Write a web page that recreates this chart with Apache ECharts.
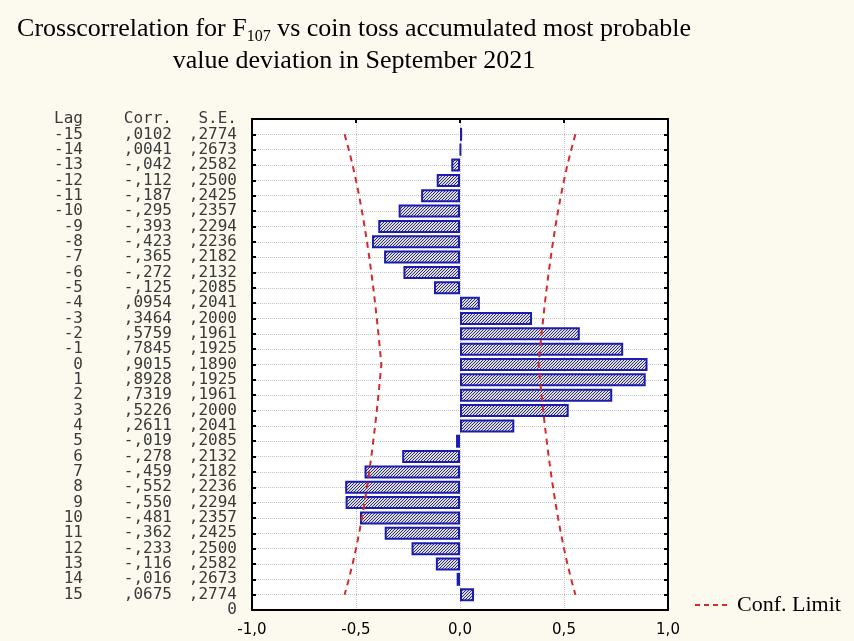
<!DOCTYPE html>
<html>
<head>
<meta charset="utf-8">
<script src="https://cdn.jsdelivr.net/npm/echarts@6/dist/echarts.min.js"></script>
<style>
  html, body { margin: 0; padding: 0; background: #fcf9ef; }
  #chart { width: 854px; height: 641px; }
</style>
</head>
<body>
<div id="chart"></div>
<script>
// Lags, cross-correlation coefficients and their standard errors
const lags = [-15, -14, -13, -12, -11, -10, -9, -8, -7, -6, -5, -4, -3, -2, -1,
  0, 1, 2, 3, 4, 5, 6, 7, 8, 9, 10, 11, 12, 13, 14, 15];
const corr = [0.0102, 0.0041, -0.042, -0.112, -0.187, -0.295, -0.393, -0.423, -0.365, -0.272,
  -0.125, 0.0954, 0.3464, 0.5759, 0.7845, 0.9015, 0.8928, 0.7319, 0.5226, 0.2611,
  -0.019, -0.278, -0.459, -0.552, -0.550, -0.481, -0.362, -0.233, -0.116, -0.016, 0.0675];
const stdErr = [0.2774, 0.2673, 0.2582, 0.2500, 0.2425, 0.2357, 0.2294, 0.2236, 0.2182, 0.2132,
  0.2085, 0.2041, 0.2000, 0.1961, 0.1925, 0.1890, 0.1925, 0.1961, 0.2000, 0.2041,
  0.2085, 0.2132, 0.2182, 0.2236, 0.2294, 0.2357, 0.2425, 0.2500, 0.2582, 0.2673, 0.2774];
const xTicks = [-1, -0.5, 0, 0.5, 1];
const headers = { lag: 'Lag', corr: 'Corr.', se: 'S.E.' };
const confMultiplier = 2;

// Row 0 holds the column headers, the last row is the empty baseline row
const rows = ['head'].concat(lags.map(String), ['base']);

function fmtCorr(v) {
  return v >= 0 ? ',' + v.toFixed(4).slice(2) : '-,' + (-v).toFixed(3).slice(2);
}
function fmtSE(v) { return ',' + v.toFixed(4).slice(2); }

const lagLabels = [headers.lag].concat(lags.map(String), ['']);
const corrLabels = [headers.corr].concat(corr.map(fmtCorr), ['']);
const seLabels = [headers.se].concat(stdErr.map(fmtSE), ['0']);

const pad = arr => ['-'].concat(arr, ['-']);
const barData = pad(corr);
const upperLimit = pad(stdErr.map(s => +(confMultiplier * s).toFixed(4)));
const lowerLimit = pad(stdErr.map(s => -(confMultiplier * s).toFixed(4)));

// Diagonal hatch used to fill the bars
function hatch() {
  const n = 3;
  const c = document.createElement('canvas');
  c.width = n; c.height = n;
  const g = c.getContext('2d');
  g.fillStyle = '#dcdbe8';
  g.fillRect(0, 0, n, n);
  g.strokeStyle = '#30305e';
  g.lineWidth = 1;
  g.beginPath();
  g.moveTo(-1, n + 1); g.lineTo(n + 1, -1);
  g.moveTo(-1, 1); g.lineTo(1, -1);
  g.moveTo(n - 1, n + 1); g.lineTo(n + 1, n - 1);
  g.stroke();
  return c;
}

const monoLabel = (list, margin) => ({
  show: true,
  interval: 0,
  margin: margin,
  fontFamily: 'DejaVu Sans Mono',
  fontSize: 16,
  color: '#3a3a3a',
  formatter: (v, i) => list[i]
});

const chart = echarts.init(document.getElementById('chart'));
chart.setOption({
  backgroundColor: '#fcf9ef',
  animation: false,
  title: {
    text: 'Crosscorrelation for F{sub|107} vs coin toss accumulated most probable\nvalue deviation in September 2021',
    left: 349,
    top: 8,
    textAlign: 'center',
    textStyle: {
      fontFamily: 'Liberation Serif',
      fontSize: 26,
      fontWeight: 'normal',
      color: '#000',
      lineHeight: 32,
      align: 'center',
      rich: {
        sub: { fontFamily: 'Liberation Serif', fontSize: 16, verticalAlign: 'bottom', lineHeight: 32, padding: [10, 0, 0, 0], color: '#000' }
      }
    }
  },
  legend: {
    data: [{
      name: 'Conf. Limit',
      icon: 'path://M0,0h5v2h-5z M9,0h5v2h-5z M18,0h5v2h-5z M27,0h5v2h-5z'
    }],
    left: 690,
    top: 589,
    itemWidth: 32,
    itemHeight: 2,
    itemGap: 10,
    itemStyle: { color: '#d42a2a' },
    textStyle: { fontFamily: 'Liberation Serif', fontSize: 22, color: '#000', padding: [0, 0, 0, 5] }
  },
  grid: {
    left: 252, right: 186, top: 119, bottom: 31,
    show: true, backgroundColor: '#ffffff', borderWidth: 0
  },
  xAxis: [{
    type: 'value', min: -1, max: 1, interval: 0.5, position: 'bottom',
    axisLine: { show: true, onZero: false, lineStyle: { color: '#000', width: 2 } },
    axisTick: { show: false },
    axisLabel: {
      margin: 13, fontFamily: 'DejaVu Sans', fontSize: 15, color: '#000',
      formatter: v => (xTicks.includes(v) ? v.toFixed(1).replace('.', ',') : '')
    },
    splitLine: { show: true, lineStyle: { color: '#c4c4c4', type: 'dotted', width: 1 } }
  }, {
    type: 'value', min: -1, max: 1, interval: 0.5, position: 'top',
    axisLine: { show: true, onZero: false, lineStyle: { color: '#000', width: 2 } },
    axisTick: { show: true, inside: true, length: 4, lineStyle: { color: '#000', width: 2 } },
    axisLabel: { show: false },
    splitLine: { show: false }
  }],
  yAxis: [{
    type: 'category', data: rows, inverse: true, boundaryGap: false, position: 'left',
    axisLine: { show: true, onZero: false, lineStyle: { color: '#000', width: 2 } },
    axisTick: { show: true, inside: true, interval: 0, length: 4, lineStyle: { color: '#000', width: 2 } },
    axisLabel: monoLabel(lagLabels, 169),
    splitLine: { show: true, interval: 0, lineStyle: { color: '#c4c4c4', type: 'dotted', width: 1 } }
  }, {
    type: 'category', data: rows, inverse: true, boundaryGap: false, position: 'left', offset: 0,
    axisLine: { show: false }, axisTick: { show: false },
    axisLabel: monoLabel(corrLabels, 80),
    splitLine: { show: false }
  }, {
    type: 'category', data: rows, inverse: true, boundaryGap: false, position: 'left', offset: 0,
    axisLine: { show: false }, axisTick: { show: false },
    axisLabel: monoLabel(seLabels, 15),
    splitLine: { show: false }
  }, {
    type: 'category', data: rows, inverse: true, boundaryGap: false, position: 'right',
    axisLine: { show: true, onZero: false, lineStyle: { color: '#000', width: 2 } },
    axisTick: { show: true, inside: true, interval: 0, length: 4, lineStyle: { color: '#000', width: 2 } },
    axisLabel: { show: false },
    splitLine: { show: false }
  }],
  series: [{
    type: 'bar',
    name: 'Corr.',
    xAxisIndex: 0,
    yAxisIndex: 0,
    data: barData,
    barWidth: 13,
    itemStyle: {
      color: { image: hatch(), repeat: 'repeat' },
      borderColor: '#1c1cb0',
      borderWidth: 2
    },
    z: 3
  }, {
    type: 'line',
    name: 'Conf. Limit',
    xAxisIndex: 0,
    yAxisIndex: 0,
    data: upperLimit,
    symbol: 'none',
    lineStyle: { color: '#d42a2a', width: 2, type: [6, 5] },
    itemStyle: { color: '#d42a2a' },
    z: 4
  }, {
    type: 'line',
    name: 'Conf. Limit',
    xAxisIndex: 0,
    yAxisIndex: 0,
    data: lowerLimit,
    symbol: 'none',
    lineStyle: { color: '#d42a2a', width: 2, type: [6, 5] },
    itemStyle: { color: '#d42a2a' },
    z: 4
  }]
});
</script>
</body>
</html>
